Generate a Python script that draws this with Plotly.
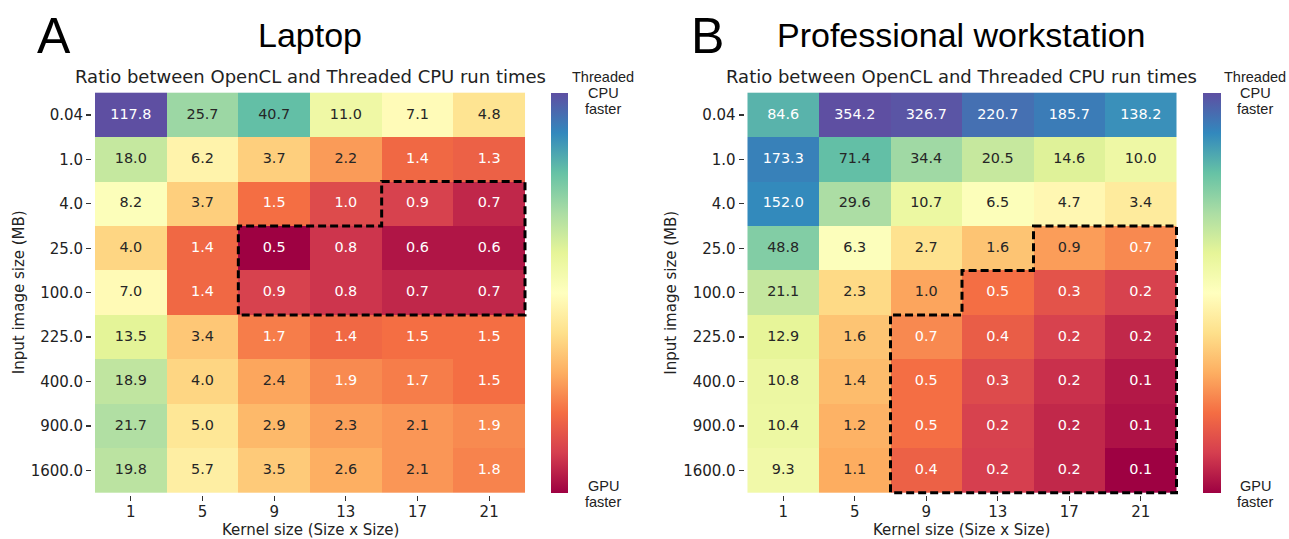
import numpy as np
import plotly.graph_objects as go

# ---------------- data ----------------
kernel_sizes = ["1", "5", "9", "13", "17", "21"]
image_sizes = ["0.04", "1.0", "4.0", "25.0", "100.0", "225.0", "400.0", "900.0", "1600.0"]

laptop_ratio = [
    [117.8, 25.7, 40.7, 11.0, 7.1, 4.8],
    [18.0, 6.2, 3.7, 2.2, 1.4, 1.3],
    [8.2, 3.7, 1.5, 1.0, 0.9, 0.7],
    [4.0, 1.4, 0.5, 0.8, 0.6, 0.6],
    [7.0, 1.4, 0.9, 0.8, 0.7, 0.7],
    [13.5, 3.4, 1.7, 1.4, 1.5, 1.5],
    [18.9, 4.0, 2.4, 1.9, 1.7, 1.5],
    [21.7, 5.0, 2.9, 2.3, 2.1, 1.9],
    [19.8, 5.7, 3.5, 2.6, 2.1, 1.8],
]

workstation_ratio = [
    [84.6, 354.2, 326.7, 220.7, 185.7, 138.2],
    [173.3, 71.4, 34.4, 20.5, 14.6, 10.0],
    [152.0, 29.6, 10.7, 6.5, 4.7, 3.4],
    [48.8, 6.3, 2.7, 1.6, 0.9, 0.7],
    [21.1, 2.3, 1.0, 0.5, 0.31, 0.23],
    [12.9, 1.6, 0.7, 0.37, 0.23, 0.16],
    [10.8, 1.4, 0.5, 0.27, 0.18, 0.13],
    [10.4, 1.2, 0.5, 0.23, 0.16, 0.12],
    [9.3, 1.1, 0.4, 0.22, 0.16, 0.095],
]

panel_letters = ["A", "B"]
panel_titles = ["Laptop", "Professional workstation"]
subtitle = "Ratio between OpenCL and Threaded CPU run times"
x_title = "Kernel size (Size x Size)"
y_title = "Input image size (MB)"
threshold = 1.0

# ---------------- style ----------------
SPECTRAL = [
    (158, 1, 66), (213, 62, 79), (244, 109, 67), (253, 174, 97), (254, 224, 139),
    (255, 255, 191), (230, 245, 152), (171, 221, 164), (102, 194, 165), (50, 136, 189),
    (94, 79, 162),
]
colorscale = [[i / 10, "rgb(%d,%d,%d)" % c] for i, c in enumerate(SPECTRAL)]

W, H = 1289, 539
TXT = "#222222"
TICK_FONT = dict(family="DejaVu Sans", size=15, color=TXT)
SANS = "Liberation Sans, Arial, sans-serif"


def px_x(x):
    return x / W


def px_y(y):
    return 1 - y / H


def cmap(t):
    t = min(max(t, 0.0), 1.0) * 10
    i = min(int(t), 9)
    f = t - i
    a, b = np.array(SPECTRAL[i]), np.array(SPECTRAL[i + 1])
    return (a + (b - a) * f) / 255.0


def luminance(rgb):
    lin = np.where(rgb <= 0.03928, rgb / 12.92, ((rgb + 0.055) / 1.055) ** 2.4)
    return 0.2126 * lin[0] + 0.7152 * lin[1] + 0.0722 * lin[2]


def outline_path(vals):
    nr, nc = vals.shape
    inside = vals < threshold
    edges = {}

    def out(rr, cc):
        return not (0 <= rr < nr and 0 <= cc < nc and inside[rr, cc])

    for r in range(nr):
        for c in range(nc):
            if not inside[r, c]:
                continue
            x0, x1, y0, y1 = c - 0.5, c + 0.5, r - 0.5, r + 0.5
            if out(r - 1, c):
                edges[(x0, y0)] = (x1, y0)
            if out(r, c + 1):
                edges[(x1, y0)] = (x1, y1)
            if out(r + 1, c):
                edges[(x1, y1)] = (x0, y1)
            if out(r, c - 1):
                edges[(x0, y1)] = (x0, y0)
    start = next(iter(edges))
    pts = [start]
    cur = edges[start]
    while cur != start:
        pts.append(cur)
        cur = edges[cur]
    simp = []
    n = len(pts)
    for i in range(n):
        p, q, s = pts[i - 1], pts[i], pts[(i + 1) % n]
        if (q[0] - p[0]) * (s[1] - q[1]) - (q[1] - p[1]) * (s[0] - q[0]) != 0:
            simp.append(q)
    return "M " + " L ".join("%g,%g" % p for p in simp) + " Z"


# panel geometry (screen pixels)
cells_x = [(95.0, 525.0), (747.5, 1176.5)]
cells_y = (92.7, 492.7)
cbar_x = [551.0, 1203.0]
cbar_w = [17, 18]
label_x = [603.0, 1255.0]
ylab_x = [18.5, 671.0]
letter_x = [54.0, 708.0]

PADX, PADY = 0.04, 0.06
ncol, nrow = len(kernel_sizes), len(image_sizes)

fig = go.Figure()
annotations = []
shapes = []

for k, data in enumerate([laptop_ratio, workstation_ratio]):
    vals = np.array(data, dtype=float)
    lo, hi = np.log10(vals.min()), np.log10(vals.max())
    ax = "" if k == 0 else "2"
    caxis = "coloraxis" if k == 0 else "coloraxis2"

    fig.add_trace(go.Heatmap(
        z=np.log10(vals), x=list(range(ncol)), y=list(range(nrow)),
        coloraxis=caxis, xaxis="x" + ax, yaxis="y" + ax, hoverinfo="skip",
    ))

    xs, ys, txt, cols = [], [], [], []
    for r in range(nrow):
        for c in range(ncol):
            t = (np.log10(vals[r, c]) - lo) / (hi - lo)
            lum = luminance(cmap(t))
            xs.append(c)
            ys.append(r)
            txt.append("%.1f" % vals[r, c])
            cols.append("#262626" if lum > 0.408 else "#ffffff")
    fig.add_trace(go.Scatter(
        x=xs, y=ys, text=txt, mode="text", xaxis="x" + ax, yaxis="y" + ax,
        textfont=dict(family="DejaVu Sans", size=14.4, color=cols),
        hoverinfo="skip", showlegend=False,
    ))

    shapes.append(dict(
        type="path", path=outline_path(vals), xref="x" + ax, yref="y" + ax,
        line=dict(color="black", width=3, dash="8px,4px"), layer="above",
    ))

    x0, x1 = cells_x[k]
    ppx = (x1 - x0) / ncol
    ppy = (cells_y[1] - cells_y[0]) / nrow
    dx0, dx1 = x0 - PADX * ppx, x1 + PADX * ppx
    dy0, dy1 = cells_y[0] - PADY * ppy, cells_y[1] + PADY * ppy

    fig.update_layout(**{
        "xaxis" + ax: dict(
            domain=[px_x(dx0), px_x(dx1)], range=[-0.5 - PADX, ncol - 0.5 + PADX],
            anchor="y" + ax, tickmode="array", tickvals=list(range(ncol)),
            ticktext=kernel_sizes, ticks="outside", ticklen=4.5, tickwidth=1.3,
            tickcolor="#333333", showgrid=False, zeroline=False, showline=False,
            tickfont=TICK_FONT, fixedrange=True, ticklabelstandoff=-2,
        ),
        "yaxis" + ax: dict(
            domain=[px_y(dy1), px_y(dy0)], range=[nrow - 0.5 + PADY, -0.5 - PADY],
            anchor="x" + ax, tickmode="array", tickvals=list(range(nrow)),
            ticktext=image_sizes, ticks="outside", ticklen=5, tickwidth=1.3,
            tickcolor="#333333", showgrid=False, zeroline=False, showline=False,
            tickfont=TICK_FONT, fixedrange=True,
        ),
        caxis: dict(
            cmin=lo, cmax=hi, colorscale=colorscale,
            colorbar=dict(
                x=px_x(cbar_x[k]), xanchor="left", y=px_y((cells_y[0] + cells_y[1]) / 2),
                yanchor="middle", lenmode="pixels", len=cells_y[1] - cells_y[0],
                thickness=cbar_w[k], thicknessmode="pixels", outlinewidth=0,
                showticklabels=False, ticks="", xpad=0, ypad=0,
            ),
        ),
    })

    cx = (x0 + x1) / 2
    common = dict(xref="paper", yref="paper", showarrow=False, xanchor="center",
                  yanchor="middle", borderpad=0)
    annotations += [
        dict(text=panel_letters[k], x=px_x(letter_x[k]), y=px_y(36),
             font=dict(family=SANS, size=50, color="black"), **common),
        dict(text=panel_titles[k], x=px_x(cx), y=px_y(35),
             font=dict(family=SANS, size=34, color="black"), **common),
        dict(text=subtitle, x=px_x(cx), y=px_y(77),
             font=dict(family="DejaVu Sans", size=18, color=TXT), **common),
        dict(text=x_title, x=px_x(cx), y=px_y(529.5),
             font=dict(family="DejaVu Sans", size=15, color=TXT), **common),
        dict(text=y_title, x=px_x(ylab_x[k]), y=px_y((cells_y[0] + cells_y[1]) / 2),
             textangle=-90, font=dict(family="DejaVu Sans", size=15, color=TXT), **common),
    ]
    for line, yy in [("Threaded", 77), ("CPU", 93.5), ("faster", 109.5), ("GPU", 486), ("faster", 502)]:
        annotations.append(dict(
            text=line, x=px_x(label_x[k]), y=px_y(yy),
            font=dict(family=SANS, size=14.5, color=TXT), **common,
        ))

fig.update_layout(
    width=W, height=H, margin=dict(l=0, r=0, t=0, b=0),
    paper_bgcolor="white", plot_bgcolor="white", showlegend=False,
    annotations=annotations, shapes=shapes,
)

fig.write_html(
    "out.html",
    config={"displayModeBar": False, "staticPlot": True},
    post_script="document.body.style.margin='0';document.body.style.overflow='hidden';",
)
